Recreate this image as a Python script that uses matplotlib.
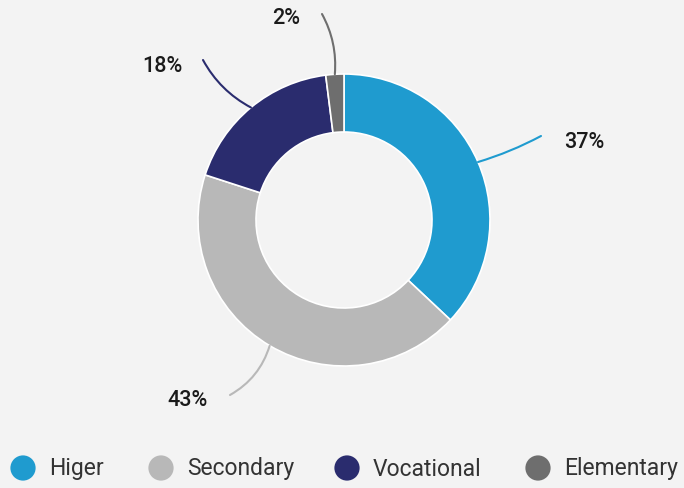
import matplotlib
matplotlib.use("Agg")
import matplotlib.pyplot as plt
import numpy as np

categories = ["Higer", "Secondary", "Vocational", "Elementary"]
shares = [37, 43, 18, 2]
colors = ["#1f9bcf", "#b8b8b8", "#2a2c6e", "#6e6e6e"]

BG = "#f3f3f3"
CX, CY, R, W = 344, 268, 146, 58

fig = plt.figure(figsize=(6.84, 4.88), dpi=100)
fig.patch.set_facecolor(BG)
ax = fig.add_axes([0, 0, 1, 1])
ax.set_facecolor(BG)
plt.rcParams["font.family"] = ["Roboto", "DejaVu Sans"]

wedges, _ = ax.pie(shares, colors=colors, startangle=90, counterclock=False,
                   center=(CX, CY), radius=R, frame=True,
                   wedgeprops=dict(width=W, edgecolor="white", linewidth=1.2))
ax.set_xlim(0, 684); ax.set_ylim(0, 488)
ax.set_aspect("equal"); ax.axis("off")

# label text spots and leader end points (pixel layout, y from bottom)
label_xy = [(584, 346), (188, 88), (162, 422), (286, 470)]
end_xy = [(541, 352), (230, 93), (203, 428), (322, 474)]
rads = [0.05, -0.2, -0.15, 0.15]
for w, pct, c, lxy, exy, rad in zip(wedges, shares, colors, label_xy, end_xy, rads):
    mid = np.deg2rad((w.theta1 + w.theta2) / 2)
    sx, sy = CX + R * np.cos(mid), CY + R * np.sin(mid)
    ax.annotate("", xy=exy, xytext=(sx, sy),
                arrowprops=dict(arrowstyle="-", color=c, lw=1.5,
                                connectionstyle=f"arc3,rad={rad}", shrinkA=0, shrinkB=0))
    ax.text(lxy[0], lxy[1], f"{pct}%", ha="center", va="center", fontsize=15.5,
            fontweight="medium", color="#1a1a1a")

# legend row along the bottom
mk_x = [23, 161, 347, 538]
for x, name, c in zip(mk_x, categories, colors):
    ax.scatter([x], [20], s=330, color=c, edgecolors="none")
    ax.text(x + 26, 19, name, ha="left", va="center", fontsize=16.5, color="#333333")

fig.savefig("out.png", dpi=100, facecolor=fig.get_facecolor())
